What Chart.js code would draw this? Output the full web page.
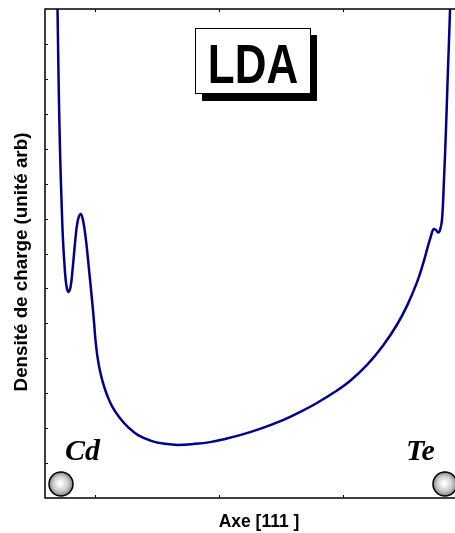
<!DOCTYPE html>
<html lang="fr">
<head>
    <meta charset="UTF-8">
    <title>Densité de charge LDA</title>
    <script src="https://cdn.jsdelivr.net/npm/chart.js"></script>
    <style>
        html, body { margin: 0; padding: 0; background: #fff; overflow: hidden; }
        #wrap { width: 455px; height: 533px; overflow: hidden; }
    </style>
</head>
<body>
    <div id="wrap">
        <canvas id="density-chart" width="475" height="533"></canvas>
    </div>

    <script>
        // position le long de l'axe [111] et densité (unité arb)
        const positions = [
            -0.303, -0.299, -0.293, -0.286, -0.277, -0.267, -0.255, -0.240, -0.227, -0.211,
            -0.194, -0.178, -0.158, -0.138, -0.114, -0.094, -0.070, -0.045, -0.021, -0.005,
            0.007, 0.023, 0.043, 0.068, 0.100, 0.140, 0.197, 0.269, 0.350, 0.462, 0.567,
            0.672, 0.809, 0.930, 1.051, 1.172, 1.333, 1.518, 1.655, 1.792, 1.938,
            2.058, 2.196, 2.324, 2.437, 2.518, 2.599, 2.647, 2.687, 2.711, 2.732,
            2.752, 2.768, 2.784, 2.800, 2.816, 2.832, 2.848, 2.865, 2.869
        ];
        const density = [
            14.83, 14.00, 12.54, 11.11, 9.68, 8.53, 7.39, 6.53, 6.07, 5.90,
            6.04, 6.53, 7.30, 7.90, 8.13, 7.96, 7.39, 6.53, 5.67, 5.04,
            4.52, 4.04, 3.64, 3.29, 2.95, 2.63, 2.32, 2.03, 1.80, 1.63, 1.55,
            1.52, 1.55, 1.60, 1.69, 1.80, 1.98, 2.23, 2.46, 2.72, 3.04,
            3.35, 3.81, 4.36, 4.96, 5.50, 6.18, 6.70, 7.21, 7.50, 7.70,
            7.67, 7.60, 7.67, 7.96, 9.10, 10.54, 12.25, 14.00, 14.83
        ];
        const xTicks = [0, 1, 2, 3];
        const yTicks = [1, 2, 3, 4, 5, 6, 7, 8, 9, 10, 11, 12, 13];
        const atomNames = ['Cd', 'Te'];
        const atomX = [-0.271, 2.824];
        const atomY = [0.40, 0.40];

        const points = positions.map((x, i) => ({ x: x, y: density[i] }));

        // cadre, graduations internes, titres, atomes et encadré LDA
        const decorations = {
            id: 'decorations',
            afterDraw(chart) {
                const ctx = chart.ctx;
                const a = chart.chartArea;
                const xs = chart.scales.x;
                const ys = chart.scales.y;
                ctx.save();

                ctx.strokeStyle = '#000';
                ctx.lineWidth = 1.5;
                ctx.strokeRect(a.left, a.top, a.right - a.left, a.bottom - a.top);

                ctx.lineWidth = 1;
                ctx.beginPath();
                xTicks.forEach(v => {
                    const px = Math.round(xs.getPixelForValue(v)) + 0.5;
                    ctx.moveTo(px, a.top); ctx.lineTo(px, a.top + 3);
                    ctx.moveTo(px, a.bottom); ctx.lineTo(px, a.bottom - 3);
                });
                yTicks.forEach(v => {
                    const py = Math.round(ys.getPixelForValue(v)) + 0.5;
                    ctx.moveTo(a.left, py); ctx.lineTo(a.left + 3, py);
                    ctx.moveTo(a.right, py); ctx.lineTo(a.right - 3, py);
                });
                ctx.stroke();

                // titres des axes
                ctx.fillStyle = '#000';
                ctx.font = 'bold 17.5px "Liberation Sans", Arial, sans-serif';
                ctx.textAlign = 'center';
                ctx.textBaseline = 'alphabetic';
                ctx.fillText('Axe [111 ]', 259, 527);
                ctx.save();
                ctx.translate(27, 262);
                ctx.rotate(-Math.PI / 2);
                ctx.font = 'bold 18.8px "Liberation Sans", Arial, sans-serif';
                ctx.fillText('Densité de charge (unité arb)', 0, 0);
                ctx.restore();

                // atomes
                atomNames.forEach((name, i) => {
                    const cx = xs.getPixelForValue(atomX[i]);
                    const cy = ys.getPixelForValue(atomY[i]);
                    const r = 12;
                    const g = ctx.createRadialGradient(cx - 1, cy - 1, 1, cx, cy, r);
                    g.addColorStop(0, '#ffffff');
                    g.addColorStop(0.6, '#cccccc');
                    g.addColorStop(1, '#808080');
                    ctx.beginPath();
                    ctx.arc(cx, cy, r, 0, Math.PI * 2);
                    ctx.fillStyle = g;
                    ctx.fill();
                    ctx.lineWidth = 1.5;
                    ctx.strokeStyle = '#000';
                    ctx.stroke();

                    ctx.fillStyle = '#000';
                    ctx.font = 'italic bold 30px "Liberation Serif", "Times New Roman", serif';
                    ctx.textAlign = 'left';
                    const lx = i === 0 ? cx + 4 : cx - 39;
                    ctx.fillText(name, lx, cy - 24);
                });

                // encadré LDA avec ombre
                ctx.fillStyle = '#000';
                ctx.fillRect(202, 35, 115, 66);
                ctx.fillStyle = '#fff';
                ctx.fillRect(195, 28, 116, 66);
                ctx.lineWidth = 1;
                ctx.strokeStyle = '#000';
                ctx.strokeRect(195.5, 28.5, 115, 65);
                ctx.save();
                ctx.translate(253, 83);
                ctx.scale(0.8, 1);
                ctx.fillStyle = '#000';
                ctx.font = 'bold 55px "Liberation Sans", Arial, sans-serif';
                ctx.textAlign = 'center';
                ctx.fillText('LDA', 0, 0);
                ctx.restore();

                ctx.restore();
            }
        };

        const ctx = document.getElementById('density-chart').getContext('2d');
        new Chart(ctx, {
            type: 'line',
            data: {
                datasets: [{
                    data: points,
                    borderColor: '#00008c',
                    borderWidth: 2.5,
                    pointRadius: 0,
                    fill: false,
                    tension: 0.4
                }]
            },
            options: {
                responsive: false,
                animation: false,
                events: [],
                layout: { padding: { left: 45, top: 9, right: 2, bottom: 35 } },
                plugins: { legend: { display: false }, tooltip: { enabled: false } },
                scales: {
                    x: { type: 'linear', min: -0.4, max: 3.05, display: false },
                    y: { type: 'linear', min: 0, max: 14, display: false }
                }
            },
            plugins: [decorations]
        });
    </script>
</body>
</html>
